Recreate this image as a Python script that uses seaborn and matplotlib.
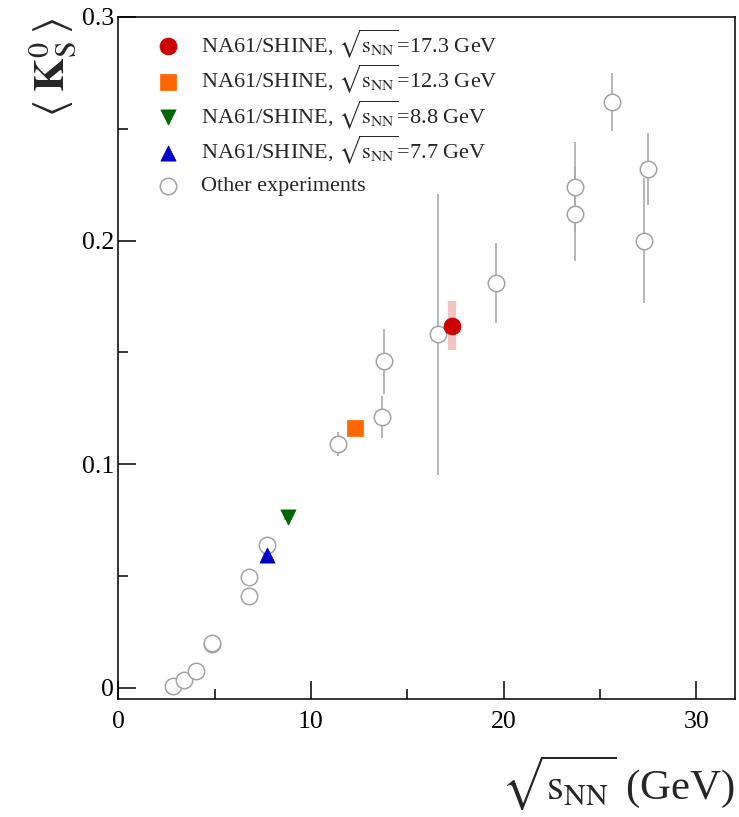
import matplotlib
matplotlib.use('Agg')
import matplotlib.pyplot as plt
import seaborn as sns
import pandas as pd

# Other experiments: sqrt(s_NN), <K0S>, stat error
other_x = [2.82, 3.42, 4.01, 4.85, 4.88, 6.76, 6.76, 7.73, 11.4, 13.7, 13.8,
           16.6, 19.6, 23.7, 23.7, 25.6, 27.3, 27.5]
other_y = [0.001, 0.0033, 0.0076, 0.0196, 0.0202, 0.0494, 0.041, 0.064, 0.109,
           0.121, 0.146, 0.158, 0.181, 0.224, 0.212, 0.262, 0.200, 0.232]
other_err = [0, 0, 0, 0, 0, 0, 0, 0, 0.0053, 0.0095, 0.0145,
             0.063, 0.018, 0.020, 0.021, 0.013, 0.028, 0.016]

# NA61/SHINE points
na61_energy = ['17.3', '12.3', '8.8', '7.7']
na61_x = [17.3, 12.3, 8.8, 7.7]
na61_y = [0.162, 0.116, 0.0765, 0.0594]
na61_sys = [0.011, 0.0012, 0.0015, 0.001]
na61_colors = ['#cc0000', '#ff6600', '#006600', '#0000cc']
na61_band = ['#f2c4c4', '#ffd2b0', '#99c299', '#9999e6']
na61_markers = ['o', 's', 'v', '^']

sns.set_theme(style='ticks')
plt.rcParams['font.family'] = ['Liberation Serif', 'DejaVu Serif']
plt.rcParams['mathtext.fontset'] = 'stix'

fig = plt.figure(figsize=(7.39, 8.17), dpi=100)
ax = fig.add_axes([0.160, 0.1445, 0.8346, 0.8347])

# error bars of other experiments
ax.errorbar(other_x, other_y, yerr=other_err, fmt='none', ecolor='#aaaaaa',
            elinewidth=1.2, capsize=0, zorder=1)
others = pd.DataFrame({'x': other_x, 'y': other_y})
sns.scatterplot(data=others, x='x', y='y', ax=ax, marker='o', s=140,
                facecolor='white', edgecolor='#a3a3a3', linewidth=1.1,
                label='Other experiments', zorder=2)

# NA61 systematic bands and markers
for i in range(len(na61_x)):
    ax.errorbar([na61_x[i]], [na61_y[i]], yerr=[na61_sys[i]], fmt='none',
                ecolor=na61_band[i], elinewidth=6, capsize=0, zorder=3)
    pt = pd.DataFrame({'x': [na61_x[i]], 'y': [na61_y[i]]})
    size = 150 if na61_markers[i] == 'o' else 120
    sns.scatterplot(data=pt, x='x', y='y', ax=ax, marker=na61_markers[i],
                    s=size, color=na61_colors[i], edgecolor=na61_colors[i],
                    linewidth=0.5,
                    label='NA61/SHINE, $\\sqrt{\\mathrm{s}_{\\mathrm{NN}}}$=' + na61_energy[i] + ' GeV',
                    zorder=4)

ax.set_xlim(0, 32)
ax.set_ylim(-0.005, 0.3)
ax.set_xticks([0, 10, 20, 30])
ax.set_xticks([5, 15, 25], minor=True)
ax.set_yticks([0, 0.1, 0.2, 0.3])
ax.set_yticklabels(['0', '0.1', '0.2', '0.3'])
ax.set_yticks([0.05, 0.15, 0.25], minor=True)
ax.tick_params(which='both', direction='in', top=False, right=False,
               width=1.1, colors='black', labelsize=18.5)
ax.tick_params(which='major', length=13)
ax.tick_params(which='minor', length=7)
ax.tick_params(axis='y', pad=3)
ax.tick_params(axis='x', pad=9)
for sp in ax.spines.values():
    sp.set_visible(True)
    sp.set_color('black')
    sp.set_linewidth(1.1)

ax.set_xlabel('$\\sqrt{\\mathrm{s}_{\\mathrm{NN}}}$ (GeV)', fontsize=31, loc='right')
ax.xaxis.set_label_coords(1.0, -0.08)
ax.set_ylabel('$\\langle\\;\\mathbf{K}^{0}_{\\mathrm{S}}\\,\\rangle$', fontsize=31, loc='top')
ax.yaxis.set_label_coords(-0.065, 0.999)

# legend: NA61 rows, then "Other experiments" as a separate row below
handles, labels = ax.get_legend_handles_labels()
leg_opts = dict(frameon=False, fontsize=16, borderaxespad=0, borderpad=0,
                handlelength=1.0, handletextpad=1.0)
leg1 = ax.legend(handles[1:], labels[1:], loc='upper left',
                 bbox_to_anchor=(0.062, 0.985), labelspacing=0.12, **leg_opts)
ax.add_artist(leg1)
ax.legend(handles[:1], labels[:1], loc='center left',
          bbox_to_anchor=(0.062, 0.752), **leg_opts)

fig.savefig('out.png', dpi=100)
